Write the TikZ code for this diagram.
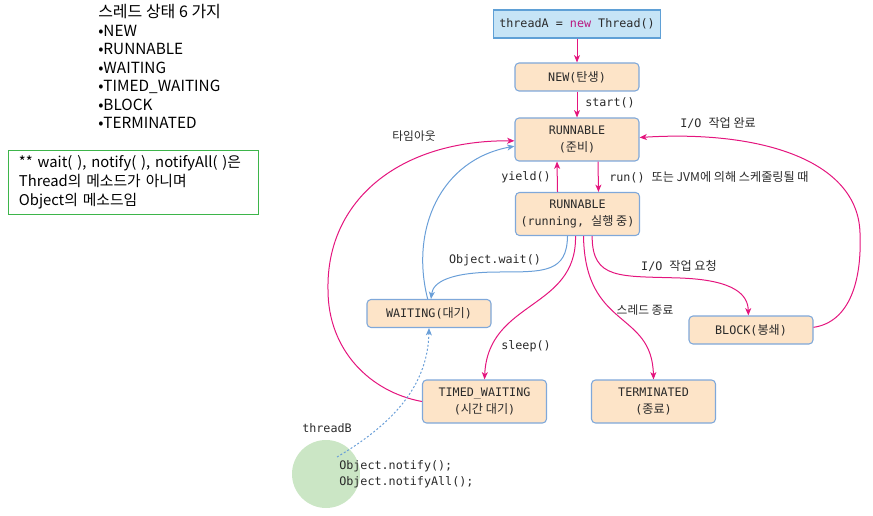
\documentclass[tikz,border=0pt]{standalone}
\usepackage{fontspec}
\usetikzlibrary{arrows.meta}
\setmainfont{Noto Sans CJK KR}
\newfontfamily\kr{Noto Sans CJK KR}
\newfontfamily\mono{DejaVu Sans Mono}
\newcommand\hg[1]{{\kr\fontsize{9.1}{12.8}\selectfont #1}}
\definecolor{mag}{HTML}{E4157E}
\definecolor{newkw}{HTML}{B8187F}
\definecolor{sky}{HTML}{6A9FD8}
\definecolor{peach}{HTML}{FDE4C8}
\definecolor{boxedge}{HTML}{7FA8DA}
\definecolor{topfill}{HTML}{C6E4F6}
\definecolor{topedge}{HTML}{5FA0D6}
\definecolor{okgreen}{HTML}{3DB54A}
\definecolor{leaf}{HTML}{CBE6C5}
\definecolor{ink}{HTML}{2A2A2A}
\tikzset{
  monofont/.style={font=\mono\fontsize{8.8}{12.8}\selectfont},
  state/.style={monofont, draw=boxedge, fill=peach, rounded corners=3pt,
    line width=0.8pt, minimum width=93pt, minimum height=21pt,
    text=ink, align=center, inner sep=0pt},
  tall/.style={minimum height=32.25pt},
  topbox/.style={monofont, draw=topedge, fill=topfill, line width=0.8pt,
    minimum width=125.25pt, minimum height=21pt, text=ink, inner sep=0pt},
  tip/.style={-{Stealth[length=5.5pt,width=4.5pt,inset=1.5pt]}},
  mflow/.style={draw=mag, line width=0.75pt, tip},
  bflow/.style={draw=sky, line width=0.75pt, tip},
  lbl/.style={monofont, text=ink, inner sep=0pt},
  klbl/.style={font=\kr\fontsize{8.8}{12}\selectfont, text=ink, inner sep=0pt},
}
\begin{document}
\begin{tikzpicture}[x=0.75pt,y=-0.75pt]
\useasboundingbox (0,0) rectangle (873,516);

% overview text
\node[anchor=north west, align=left, inner sep=0pt,
      font=\kr\fontsize{11.5}{13.9}\selectfont] (states) at (98,4)
  {{\fontsize{12}{13.9}\selectfont 스레드 상태 6 가지}\\•NEW\\•RUNNABLE\\•WAITING\\•TIMED\_WAITING\\•BLOCK\\•TERMINATED};

\node[draw=okgreen, line width=0.9pt, anchor=north west, minimum width=187.5pt,
      minimum height=48pt, inner xsep=7.5pt, inner ysep=2pt, text width=172pt,
      align=left, font=\kr\fontsize{11.1}{14.25}\selectfont] (note) at (8,150)
  {** wait( ), notify( ), notifyAll( )은\\Thread의 메소드가 아니며\\Object의 메소드임};

% states
\node[topbox] (ta) at (577,24) {threadA = {\color{newkw}new} Thread()};
\node[state] (new) at (577,77) {NEW(\hg{탄생})};
\node[state,tall] (rdy) at (577,139.5) {RUNNABLE\\(\hg{준비})};
\node[state,tall] (run) at (577.5,214) {RUNNABLE\\(running, \hg{실행 중})};
\node[state] (wait) at (429,313.5) {WAITING(\hg{대기})};
\node[state,tall] (timed) at (484.5,401.5) {TIMED\_WAITING\\(\hg{시간 대기})};
\node[state,tall] (term) at (653.5,401.5) {TERMINATED\\(\hg{종료})};
\node[state] (block) at (751,330) {BLOCK(\hg{봉쇄})};

% notifying thread
\node[circle, fill=leaf, minimum size=51pt, inner sep=0pt] (tbc) at (326,474) {};
\coordinate (tb) at (337,457);

% transitions
\draw[mflow] (ta.south) -- (new.north);
\draw[mflow] (new.south) -- (rdy.north);
\draw[mflow] ([xshift=15.75pt]rdy.south) -- ([xshift=15.75pt]run.north);
\draw[mflow] ([xshift=-15pt]run.north) -- ([xshift=-15pt]rdy.south);
\draw[bflow] ([xshift=-7.5pt]run.south) .. controls (567,272) and (545,272) .. (500,272)
  .. controls (450,272) and (433,282) .. ([xshift=1.5pt]wait.north);
\draw[bflow] ([xshift=-1pt]wait.north) .. controls (410,230) and (440,160) .. ([yshift=-5pt]rdy.west);
\draw[mflow] (timed.west) .. controls (370,392) and (328,350) .. (328,290)
  .. controls (326,200) and (400,140) .. ([yshift=-1pt]rdy.west);
\draw[mflow] ([xshift=-1.5pt]run.south) .. controls (577,310) and (488,300) .. (timed.north);
\draw[mflow] ([xshift=4.5pt]run.south) .. controls (585,330) and (652,310) .. (term.north);
\draw[mflow] ([xshift=11pt]run.south) .. controls (592,280) and (620,276) .. (680,278)
  .. controls (735,280) and (748,295) .. ([xshift=-2pt]block.north);
\draw[mflow] ([yshift=2pt]block.east) .. controls (850,322) and (862,280) .. (860,233)
  .. controls (858,160) and (760,130) .. ([yshift=1.5pt]rdy.east);
\draw[bflow, dash pattern=on 1.5pt off 1.5pt] (tb) .. controls (400,420) and (428,380) .. (wait.south);

% labels
\node[lbl, anchor=west] (lstart) at (585,103) {start()};
\node[lbl, anchor=west] (ldone) at (680,123) {I/O \hg{작업 완료}};
\node[klbl] (ltimeout) at (414,136) {타임아웃};
\node[lbl, anchor=east] (lyield) at (551,177) {yield()};
\node[lbl, anchor=west] (lrun) at (609,177) {run() \hg{또는 JVM에 의해 스케줄링될 때}};
\node[lbl] (lwait) at (495,260) {Object.wait()};
\node[lbl] (lreq) at (679,266) {I/O \hg{작업 요청}};
\node[klbl] (lend) at (645,310) {스레드 종료};
\node[lbl] (lsleep) at (526,346) {sleep()};
\node[lbl] (ltb) at (327,428) {threadB};
\node[lbl, anchor=west, align=left, font=\mono\fontsize{8.8}{12}\selectfont] (lnotify) at (339,474)
  {Object.notify();\\Object.notifyAll();};
\end{tikzpicture}
\end{document}
